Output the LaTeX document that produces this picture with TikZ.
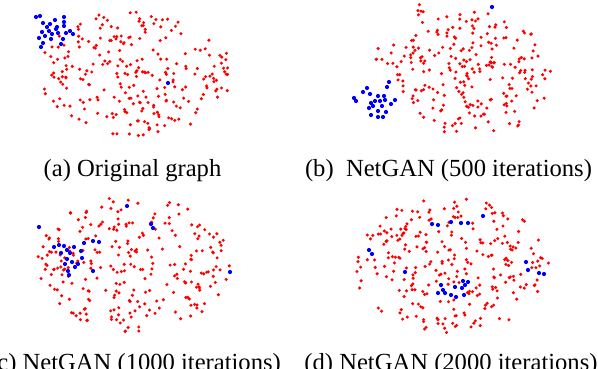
\documentclass[tikz,border=0pt]{standalone}
\usepackage{fontspec}
\setmainfont{Liberation Serif}
\newcommand\redblob[6]{%
  \pgfmathsetseed{#1}%
  \foreach \i in {1,...,#2}{%
    \pgfmathsetmacro\myr{sqrt(rnd)}%
    \pgfmathsetmacro\myt{360*rnd}%
    \fill[reddot] ({#3+#5*\myr*cos(\myt)},{#4+#6*\myr*sin(\myt)}) circle (1.7);
  }%
}
\begin{document}
\begin{tikzpicture}[x=1pt,y=-1pt,
  reddot/.style={fill=red},
  bluedot/.style={fill=blue},
  captext/.style={font=\fontsize{24.6}{28}\selectfont, inner sep=0pt, anchor=base}]
\useasboundingbox (0,0) rectangle (598,368);
\clip (0,0) rectangle (598,368);
\fill[white] (0,0) rectangle (598,368);
% panel (a)
\redblob{11}{250}{135}{72}{97}{64}
\foreach \p in {(36,17),(40,16),(55,20),(64,17),(64,22),(43,23),(50,24),(47,27),(57,27),(64,26),(42,32),(49,31),(52,34),(58,33),(66,33),(70,31),(73,34),(45,36),(39,38),(51,39),(63,39),(43,43),(61,44),(41,47),(56,29),(168,83)}
  \fill[bluedot] \p circle (2.1);
% panel (b)
\redblob{23}{220}{475}{74}{78}{63}
\redblob{5}{16}{398}{55}{28}{14}
\redblob{7}{6}{420}{14}{4}{12}
\foreach \p in {(492,7),(389,82),(367,88),(387,87),(363,92),(370,94),(378,96),(384,96),(354,98),(356,101),(375,101),(380,101),(385,100),(395,100),(371,103),(391,104),(369,108),(373,106),(382,106),(378,111),(386,112),(371,115),(378,117),(383,117)}
  \fill[bluedot] \p circle (2.1);
% panel (c)
\redblob{37}{260}{133}{264}{97}{68}
\foreach \p in {(39,227),(127,206),(151,224),(153,228),(84,243),(93,241),(99,242),(54,247),(59,245),(64,246),(74,247),(67,250),(81,251),(61,253),(70,253),(82,258),(67,259),(72,262),(78,264),(65,264),(75,267),(68,271),(69,275),(93,271),(230,272)}
  \fill[bluedot] \p circle (2.1);
% panel (d)
\redblob{41}{270}{452}{265}{98}{69}
\foreach \p in {(451,222),(432,224),(438,225),(461,223),(468,223),(483,216),(369,250),(372,254),(405,272),(526,262),(528,270),(539,273),(544,274),(463,281),(468,282),(465,285),(441,285),(455,287),(462,288),(443,290),(438,293),(445,293),(451,295),(456,297),(464,295)}
  \fill[bluedot] \p circle (2.1);
% captions
\node[captext] (capa) at (132.5,176.5) {(a) Original graph};
\node[captext] (capb) at (448.5,176.5) {(b)\ \ NetGAN (500 iterations)};
\node[captext] (capc) at (135,370) {(c) NetGAN (1000 iterations)};
\node[captext] (capd) at (451,370) {(d) NetGAN (2000 iterations)};
\end{tikzpicture}
\end{document}
